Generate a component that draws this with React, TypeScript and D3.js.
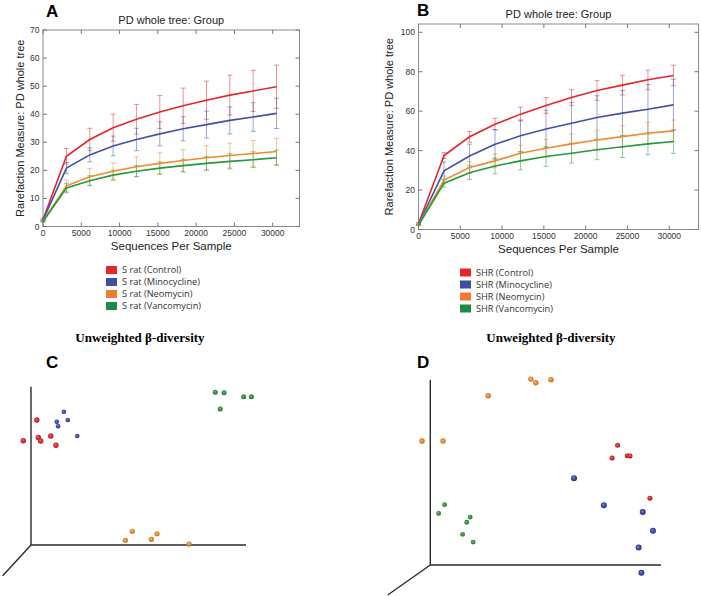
import React from "react";
import * as d3 from "d3";

const depths = [10, 3059, 6108, 9157, 12206, 15255, 18304, 21353, 24402, 27451, 30500];
const xTicks = [0, 5000, 10000, 15000, 20000, 25000, 30000];

const groupNames = ["Control", "Minocycline", "Neomycin", "Vancomycin"];
const lineColors = ["#e3262c", "#4350a8", "#f08a2a", "#249a3c"];
const boxColors = ["#e8262b", "#3d4fa1", "#ee7d31", "#1f8a45"];

// Panel A (S rat)
const aCtrl = [2.5, 25, 31, 35.2, 38.2, 40.8, 43, 45, 46.8, 48.3, 49.8];
const aMino = [2.3, 20.8, 25.5, 28.7, 31, 33, 34.8, 36.3, 37.8, 39, 40.3];
const aNeo = [2, 14.5, 17.7, 19.7, 21.3, 22.5, 23.5, 24.5, 25.3, 26, 26.7];
const aVanco = [1.8, 13.7, 16.3, 18.3, 19.7, 20.8, 21.7, 22.5, 23.2, 23.8, 24.5];
const aCtrlSd = [0.5, 2.8, 4, 4.8, 5.3, 5.9, 6.3, 6.8, 7.1, 7.3, 7.7];
const aMinoSd = [0.3, 2, 2.5, 3.5, 4, 4.3, 4.3, 4.8, 4.8, 5.1, 5.4];
const aNeoSd = [0.3, 2.1, 3, 3, 3.5, 3.8, 3.9, 4.3, 4.4, 4.6, 4.7];
const aVancoSd = [0.3, 1.7, 1.8, 1.8, 2, 2.2, 2.3, 2.5, 2.7, 2.8, 2.7];
const aYTicks = [0, 10, 20, 30, 40, 50, 60, 70];

// Panel B (SHR)
const bCtrl = [3, 37.5, 47, 53.4, 58.5, 62.9, 66.9, 70.5, 73.2, 75.9, 78.1];
const bMino = [2.8, 29.7, 37.3, 43.2, 47.5, 51, 53.9, 56.8, 59, 61, 63.2];
const bNeo = [2.5, 25.1, 31.4, 34.8, 38.7, 41.2, 43.4, 45.4, 47.1, 48.8, 50];
const bVanco = [2.3, 23.5, 28.8, 32.2, 34.8, 37, 38.7, 40.4, 42, 43.4, 44.6];
const bCtrlSd = [0.5, 1.5, 2.7, 3, 3.5, 4, 4, 5, 5, 5, 5.2];
const bMinoSd = [0.5, 4.5, 6, 7.5, 8, 9.5, 10.5, 11, 11.5, 12.5, 13];
const bNeoSd = [0.4, 2, 3, 3.5, 4, 4.5, 5, 5, 5.5, 5.5, 5.5];
const bVancoSd = [0.4, 2, 3.5, 4, 4.5, 5, 5, 5, 5.5, 5.5, 6];
const bYTicks = [0, 20, 40, 60, 80, 100];

// Panel C PCoA points (normalised axis units)
const cCtrl = [[2.7, 79], [-3.6, 65.9], [3.4, 67.9], [4.5, 65.7], [9.2, 68.9], [11.6, 63]];
const cMino = [[15.3, 84.2], [12, 77.9], [17.1, 79], [12.6, 75], [21.5, 68.9]];
const cNeo = [[47.1, 8.7], [43.9, 3], [58.6, 7.1], [56, 3.6], [73.5, 0.6]];
const cVanco = [[85.7, 96.5], [89.8, 96.2], [98.9, 93.7], [102.5, 93.7], [88, 85.9]];

// Panel D PCoA points
const dCtrl = [[81.2, 64.7], [78.8, 57.8], [85.4, 59.1], [86.6, 58.9], [95.2, 36.1]];
const dMino = [[62.3, 46.9], [75.2, 32.3], [92.1, 28.6], [96.5, 18.5], [90.3, 9.4], [91.5, -4.2]];
const dNeo = [[-3.6, 67], [5.5, 67], [25.1, 91.5], [43.6, 100.5], [45.7, 98.5], [52.3, 100.2]];
const dVanco = [[6.2, 32.6], [3.6, 27.9], [17.3, 25.9], [15.8, 23.1], [14, 16.6], [18.6, 12.4]];

const sans = "'Liberation Sans', Arial, sans-serif";

type RareProps = {
  left: number; right: number; top: number; bottom: number;
  yMax: number; yTicks: number[];
  means: number[][]; sds: number[][];
  letter: string; letterX: number; letterY: number; yLabelX: number;
  prefix: string; legendX: number; legendY: number;
};

function Rarefaction(p: RareProps) {
  const x = d3.scaleLinear().domain([0, 33500]).range([p.left, p.right]);
  const y = d3.scaleLinear().domain([0, p.yMax]).range([p.bottom, p.top]);
  const line = d3.line<number>().x((_, i) => x(depths[i])).y((v) => y(v));
  const cx = (p.left + p.right) / 2;
  const tl = 4;
  return (
    <g>
      <text x={p.letterX} y={p.letterY} fontFamily={sans} fontWeight="bold" fontSize={17}>{p.letter}</text>
      <text x={cx} y={p.top - 6} textAnchor="middle" fontFamily={sans} fontSize={11} fill="#222">PD whole tree: Group</text>
      <rect x={p.left} y={p.top} width={p.right - p.left} height={p.bottom - p.top} fill="none" stroke="#8a8a8a" strokeWidth={1} />
      {xTicks.map((t) => (
        <g key={"x" + t}>
          <line x1={x(t)} x2={x(t)} y1={p.bottom} y2={p.bottom - tl} stroke="#777" />
          <line x1={x(t)} x2={x(t)} y1={p.top} y2={p.top + tl} stroke="#777" />
          <text x={x(t)} y={p.bottom + 9} textAnchor="middle" fontFamily={sans} fontSize={8.5} fill="#333">{t}</text>
        </g>
      ))}
      {p.yTicks.map((t) => (
        <g key={"y" + t}>
          <line x1={p.left} x2={p.left + tl} y1={y(t)} y2={y(t)} stroke="#777" />
          <line x1={p.right} x2={p.right - tl} y1={y(t)} y2={y(t)} stroke="#777" />
          <text x={p.left - 3.5} y={y(t) + 3} textAnchor="end" fontFamily={sans} fontSize={8.5} fill="#333">{t}</text>
        </g>
      ))}
      <text transform={`translate(${p.yLabelX},${(p.top + p.bottom) / 2}) rotate(-90)`} textAnchor="middle" fontFamily={sans} fontSize={11} fill="#222">Rarefaction Measure: PD whole tree</text>
      <text x={cx} y={p.bottom + 23} textAnchor="middle" fontFamily={sans} fontSize={11.5} fill="#222">Sequences Per Sample</text>
      {p.means.map((m, k) => (
        <g key={"eb" + k} stroke={lineColors[k]} strokeOpacity={0.5} strokeWidth={1}>
          {m.map((v, i) => {
            const sd = p.sds[k][i];
            const xx = x(depths[i]);
            return (
              <g key={i}>
                <line x1={xx} x2={xx} y1={y(v - sd)} y2={y(v + sd)} />
                <line x1={xx - 2.5} x2={xx + 2.5} y1={y(v - sd)} y2={y(v - sd)} />
                <line x1={xx - 2.5} x2={xx + 2.5} y1={y(v + sd)} y2={y(v + sd)} />
              </g>
            );
          })}
        </g>
      ))}
      {p.means.map((m, k) => (
        <path key={"l" + k} d={line(m) || ""} fill="none" stroke={lineColors[k]} strokeWidth={1.6} />
      ))}
      {groupNames.map((g, k) => (
        <g key={"lg" + k}>
          <rect x={p.legendX} y={p.legendY + k * 12 - 4} width={11} height={8} fill={boxColors[k]} />
          <text x={p.legendX + 16} y={p.legendY + k * 12 + 3.2} fontFamily="'Open Sans', sans-serif" fontSize={9.2} fill="#333">{`${p.prefix} (${g})`}</text>
        </g>
      ))}
    </g>
  );
}

type ScatProps = {
  ox: number; oy: number; xEnd: number; yEnd: number; zx: number; zy: number;
  groups: number[][][]; radii: number[];
  letter: string; letterX: number; titleX: number;
};

const gradIds = ["gRed", "gBlue", "gOrange", "gGreen"];

function Scatter(p: ScatProps) {
  const x = d3.scaleLinear().domain([0, 100]).range([p.ox, p.xEnd]);
  const y = d3.scaleLinear().domain([0, 100]).range([p.oy, p.yEnd]);
  return (
    <g>
      <text x={p.titleX} y={341.5} textAnchor="middle" fontFamily="'Liberation Serif', 'Times New Roman', serif" fontWeight="bold" fontSize={13}>Unweighted β-diversity</text>
      <text x={p.letterX} y={368} fontFamily={sans} fontWeight="bold" fontSize={17}>{p.letter}</text>
      <g stroke="#2a2a2a" strokeWidth={1.4}>
        <line x1={p.ox} y1={p.oy} x2={p.ox} y2={y(100)} />
        <line x1={p.ox} y1={p.oy} x2={x(100)} y2={p.oy} />
        <line x1={p.ox} y1={p.oy} x2={p.zx} y2={p.zy} />
      </g>
      {p.groups.map((pts, k) => (
        <g key={k}>
          {pts.map((pt, i) => (
            <circle key={i} cx={x(pt[0])} cy={y(pt[1])} r={p.radii[k]} fill={`url(#${gradIds[k]})`} />
          ))}
        </g>
      ))}
    </g>
  );
}

function Grad({ id, light, mid, dark }: { id: string; light: string; mid: string; dark: string }) {
  return (
    <radialGradient id={id} cx="0.5" cy="0.5" r="0.55" fx="0.38" fy="0.35">
      <stop offset="0" stopColor={light} />
      <stop offset="0.55" stopColor={mid} />
      <stop offset="1" stopColor={dark} />
    </radialGradient>
  );
}

export default function App() {
  return (
    <svg width={702} height={596} style={{ position: "absolute", left: 0, top: 0, background: "#fff" }}>
      <defs>
        <Grad id="gRed" light="#f07070" mid="#d62a2a" dark="#a81818" />
        <Grad id="gBlue" light="#8088d8" mid="#3f48a8" dark="#262c7a" />
        <Grad id="gOrange" light="#f5c080" mid="#e08a30" dark="#b86818" />
        <Grad id="gGreen" light="#70c080" mid="#2e9440" dark="#1c6a2a" />
      </defs>
      <rect x={0} y={0} width={702} height={596} fill="#fff" />
      <Rarefaction left={43} right={299.5} top={30} bottom={226.5} yMax={70} yTicks={aYTicks}
        means={[aCtrl, aMino, aNeo, aVanco]} sds={[aCtrlSd, aMinoSd, aNeoSd, aVancoSd]}
        letter="A" letterX={46} letterY={17} yLabelX={24} prefix="S rat" legendX={106} legendY={270} />
      <Rarefaction left={418.5} right={698.5} top={24} bottom={229.5} yMax={104.2} yTicks={bYTicks}
        means={[bCtrl, bMino, bNeo, bVanco]} sds={[bCtrlSd, bMinoSd, bNeoSd, bVancoSd]}
        letter="B" letterX={417} letterY={16} yLabelX={393} prefix="SHR" legendX={460} legendY={272.5} />
      <Scatter ox={31} oy={545} xEnd={246} yEnd={386.7} zx={2.7} zy={575.7}
        groups={[cCtrl, cMino, cNeo, cVanco]} radii={[2.7, 2.3, 2.6, 2.5]} letter="C" letterX={46} titleX={140} />
      <Scatter ox={430.3} oy={565} xEnd={661} yEnd={380} zx={387.7} zy={595}
        groups={[dCtrl, dMino, dNeo, dVanco]} radii={[2.5, 3, 2.7, 2.4]} letter="D" letterX={417} titleX={551} />
    </svg>
  );
}
